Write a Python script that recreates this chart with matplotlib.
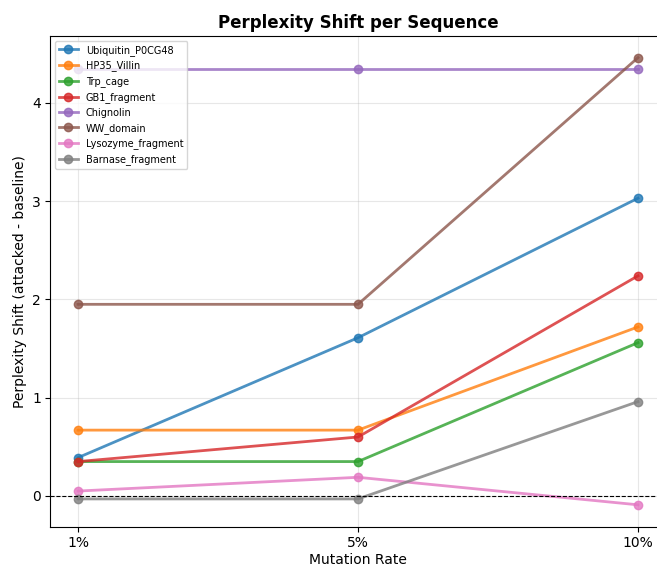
import matplotlib
matplotlib.use("Agg")
import matplotlib.pyplot as plt

rates = ["1%", "5%", "10%"]
ubiquitin = [0.39, 1.61, 3.03]
hp35 = [0.67, 0.67, 1.72]
trp_cage = [0.35, 0.35, 1.56]
gb1 = [0.35, 0.60, 2.24]
chignolin = [4.34, 4.34, 4.34]
ww_domain = [1.95, 1.95, 4.46]
lysozyme = [0.05, 0.19, -0.09]
barnase = [-0.03, -0.03, 0.96]

series = [
    ("Ubiquitin_P0CG48", ubiquitin),
    ("HP35_Villin", hp35),
    ("Trp_cage", trp_cage),
    ("GB1_fragment", gb1),
    ("Chignolin", chignolin),
    ("WW_domain", ww_domain),
    ("Lysozyme_fragment", lysozyme),
    ("Barnase_fragment", barnase),
]

fig = plt.figure(figsize=(6.57, 5.67), dpi=100)
ax = fig.add_axes([0.0761, 0.0705, 0.9376, 0.866])
x = list(range(len(rates)))
for name, vals in series:
    ax.plot(x, vals, marker="o", linewidth=2, markersize=6, alpha=0.8, label=name)

ax.axhline(0, color="black", linestyle="--", linewidth=0.8)
ax.set_xticks(x)
ax.set_xticklabels(rates)
ax.set_xlim(-0.1, 2.1)
ax.set_ylim(-0.316, 4.68)
ax.set_yticks([0, 1, 2, 3, 4])
ax.tick_params(labelsize=10, pad=3)
ax.grid(True, alpha=0.3)
ax.set_xlabel("Mutation Rate", fontsize=10, labelpad=2)
ax.set_ylabel("Perplexity Shift (attacked - baseline)", fontsize=10)
ax.set_title("Perplexity Shift per Sequence", fontsize=12, fontweight="bold")
ax.legend(loc="upper left", fontsize=7)

fig.savefig("out.png", dpi=100)
